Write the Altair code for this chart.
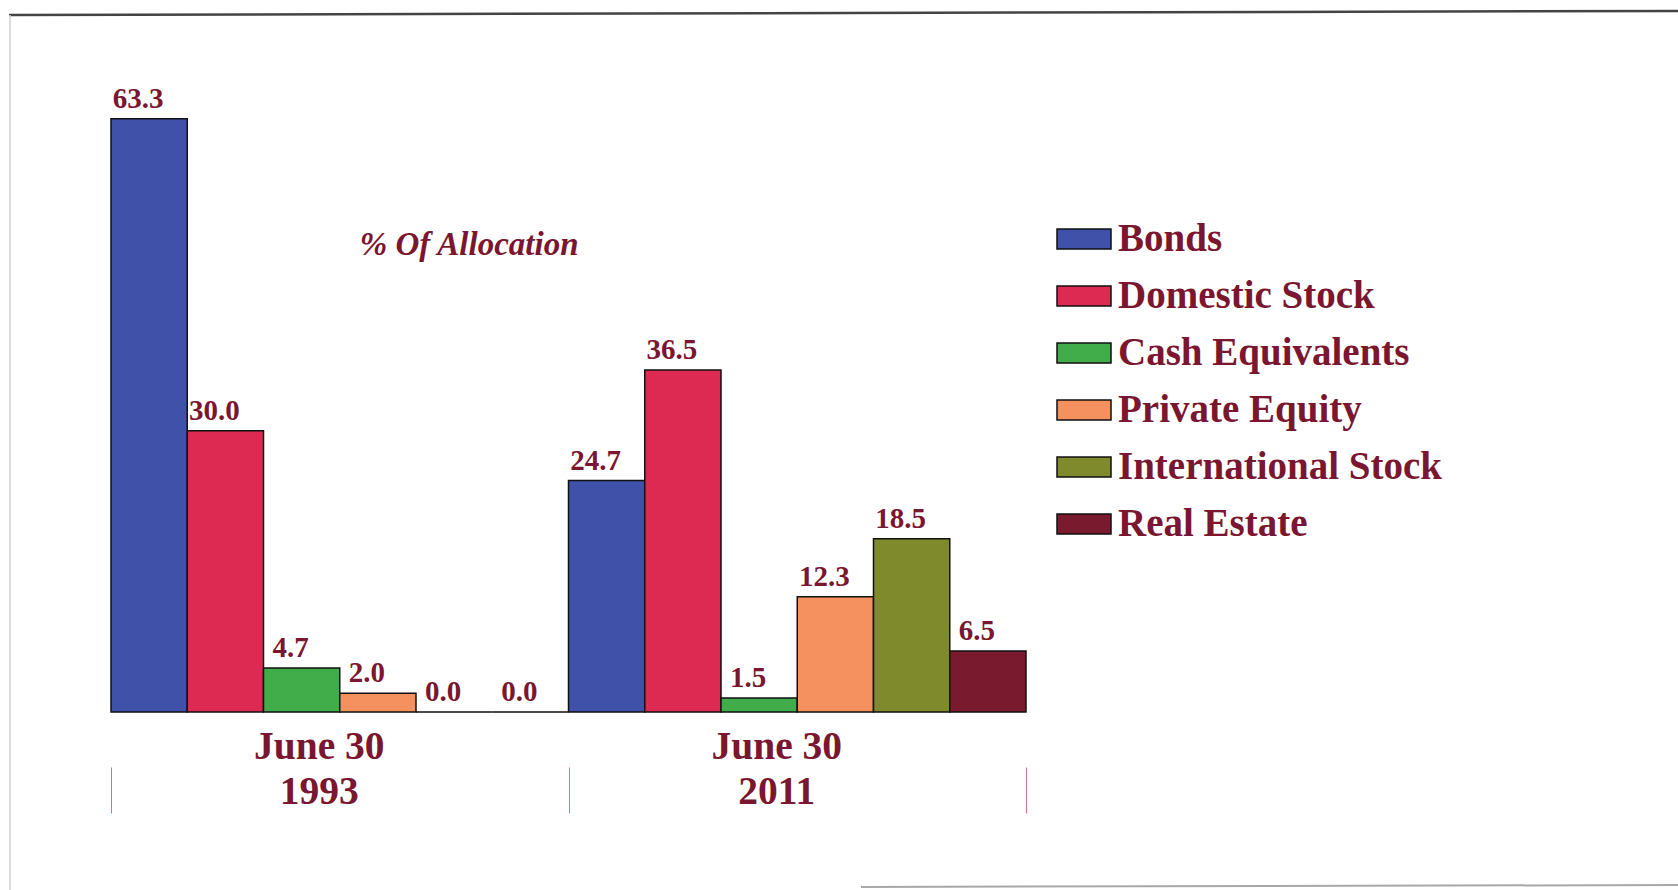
import altair as alt
import pandas as pd

periods = ["June 30\n1993", "June 30\n2011"]
series = ["Bonds", "Domestic Stock", "Cash Equivalents", "Private Equity",
          "International Stock", "Real Estate"]
values_1993 = [63.3, 30.0, 4.7, 2.0, 0.0, 0.0]
values_2011 = [24.7, 36.5, 1.5, 12.3, 18.5, 6.5]
colors = ["#3f51a8", "#dc2a52", "#40ad4a", "#f4915f", "#7e8a2c", "#7a1a2e"]
title_text = "% Of Allocation"

rows = []
for s, v in zip(series, values_1993):
    rows.append({"period": periods[0], "series": s, "value": v})
for s, v in zip(series, values_2011):
    rows.append({"period": periods[1], "series": s, "value": v})
df = pd.DataFrame(rows)

MAROON = "#7a1630"
FONT = "Liberation Serif"

x_enc = alt.X("period:N", sort=periods,
              scale=alt.Scale(paddingInner=0, paddingOuter=0),
              axis=alt.Axis(title=None, labelAngle=0, domain=False,
                            offset=55, tickSize=46, tickBand="extent",
                            tickColor="#d9708e", tickWidth=1,
                            labelPadding=-86, labelLineHeight=45,
                            labelOffset=-21,
                            labelFont=FONT, labelFontSize=39.5,
                            labelFontWeight="bold", labelColor=MAROON,
                            labelExpr="datum.value ? split(datum.value, '\\n') : ''"))
xo_enc = alt.XOffset("series:N", sort=series,
                     scale=alt.Scale(paddingInner=0, paddingOuter=0))
y_enc = alt.Y("value:Q", scale=alt.Scale(domain=[0, 70]), axis=None)

bars = alt.Chart(df).mark_bar(stroke="#111111", strokeWidth=1.5).encode(
    x=x_enc,
    xOffset=xo_enc,
    y=y_enc,
    color=alt.Color("series:N", sort=series,
                    scale=alt.Scale(domain=series, range=colors),
                    legend=alt.Legend(
                        title=None, orient="none", legendX=945, legendY=155,
                        symbolType="M-1,-0.37H1V0.37H-1Z", symbolSize=2916,
                        symbolStrokeColor="#111111", symbolStrokeWidth=1.5,
                        symbolOpacity=1,
                        labelFont=FONT, labelFontSize=39, labelFontWeight="bold",
                        labelColor=MAROON, labelOffset=6, rowPadding=9,
                        labelLimit=500)),
)

labels = alt.Chart(df).mark_text(
    font=FONT, fontSize=29, fontWeight="bold", color=MAROON,
    baseline="alphabetic", dy=-11, dx=-11,
).encode(
    x=x_enc,
    xOffset=xo_enc,
    y=y_enc,
    text=alt.Text("value:Q", format=".1f"),
)

one = alt.Data(values=[{}])
top_edge = alt.Chart(one).mark_rule(color="#444444", strokeWidth=2.5).encode(
    x=alt.value(-102), x2=alt.value(1567), y=alt.value(-41), y2=alt.value(-45))
left_edge = alt.Chart(one).mark_rule(color="#d0d0d0", strokeWidth=1.5).encode(
    x=alt.value(-101), x2=alt.value(-101), y=alt.value(-41), y2=alt.value(834))
bottom_edge = alt.Chart(one).mark_rule(color="#a8a8a8", strokeWidth=2).encode(
    x=alt.value(750), x2=alt.value(1567), y=alt.value(831), y2=alt.value(829))

chart = alt.layer(top_edge, left_edge, bottom_edge, bars, labels).properties(
    width=915, height=656,
    title=alt.TitleParams(title_text, anchor="start", dx=352, dy=256,
                          font=FONT, fontSize=33, fontWeight="bold",
                          fontStyle="italic", color=MAROON),
    autosize=alt.AutoSizeParams(type="none"),
    padding={"left": 111, "top": 56, "right": 652, "bottom": 178},
    background="white",
).configure_view(stroke=None)

chart.save("out.html", embed_options={"renderer": "svg", "actions": False})
